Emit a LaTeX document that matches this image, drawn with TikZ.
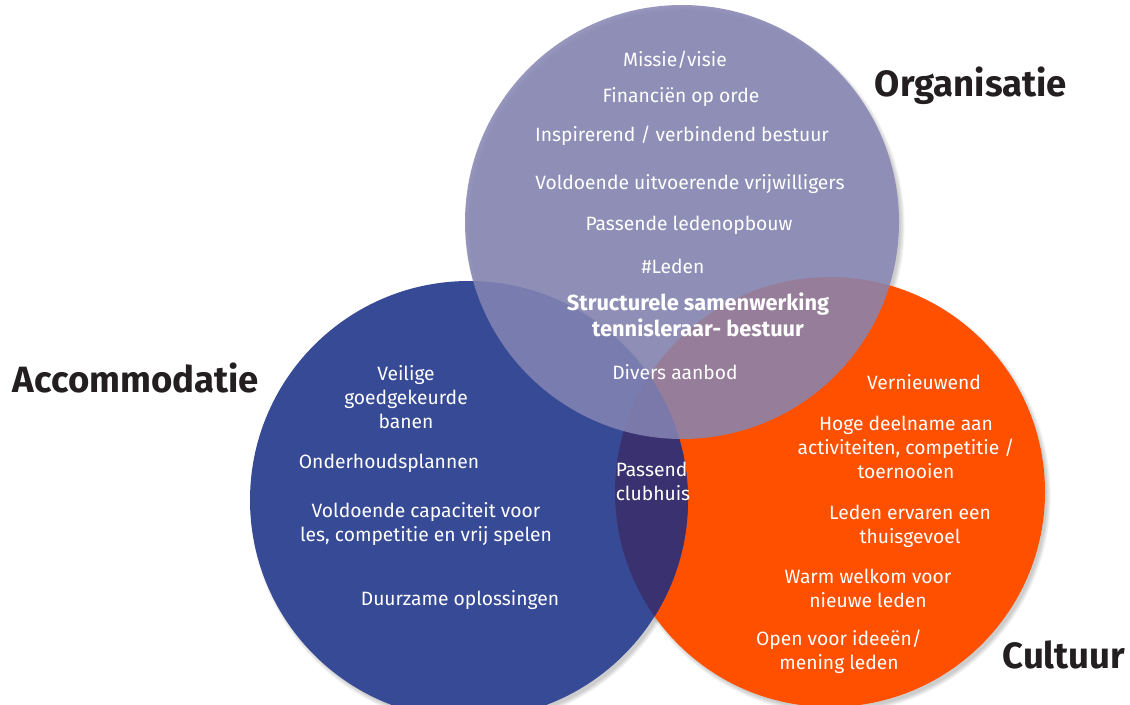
\documentclass[tikz,border=0pt]{standalone}
\usepackage{fontspec}
\setmainfont{Fira Sans}
\definecolor{orgpaars}{RGB}{133,133,179}
\definecolor{accblauw}{RGB}{55,74,150}
\definecolor{cultoranje}{RGB}{255,80,0}
\definecolor{clubpaars}{RGB}{58,50,112}
\definecolor{titelzwart}{RGB}{35,31,32}
\tikzset{
  punt/.style={text=white, align=center, inner sep=0pt, font=\fontsize{13.7}{17}\selectfont},
  vetpunt/.style={punt, font=\fontsize{15.5}{18.5}\selectfont\bfseries},
  titel/.style={text=titelzwart, inner sep=0pt, font=\fontsize{26}{30}\selectfont\bfseries},
}
\begin{document}
\begin{tikzpicture}[x=0.025cm,y=-0.025cm]
    %\draw [help lines] (0,0) grid (1130,704);
    \useasboundingbox (0,0) rectangle (1130,704);

    \coordinate (org) at (682,222);
    \coordinate (acc) at (469,500);
    \coordinate (cul) at (830,492);

    %schaduw
    \foreach \c/\r in {org/217, acc/219, cul/215} {
      \foreach \i in {1,...,6}
        \fill [black, opacity=0.035] ([shift={(3,4)}]\c) circle [radius=\r+\i*0.8-2];
    }

    %Cultuur
    \fill [cultoranje] (cul) circle [radius=215];
    %Accommodatie
    \fill [accblauw] (acc) circle [radius=219];
    %clubhuis
    \begin{scope}
      \clip (cul) circle [radius=215];
      \fill [clubpaars] (acc) circle [radius=219];
    \end{scope}
    %Organisatie
    \fill [orgpaars, opacity=0.86] (org) circle [radius=217];

    %titels
    \node [titel] (torg) at (971,86) {Organisatie};
    \node [titel] (tacc) at (136,378) {Accommodatie};
    \node [titel] (tcul) at (1064,655) {Cultuur};

    %Organisatie
    \node [punt] (missie) at (675,60) {Missie/visie};
    \node [punt] (financien) at (681,97) {Financiën op orde};
    \node [punt] (bestuur) at (682,136) {Inspirerend / verbindend bestuur};
    \node [punt] (vrijwilligers) at (690,184) {Voldoende uitvoerende vrijwilligers};
    \node [punt] (opbouw) at (689,225) {Passende ledenopbouw};
    \node [punt] (leden) at (673,266) {\#Leden};
    \node [vetpunt] (samenwerking) at (698,315) {Structurele samenwerking\\tennisleraar- bestuur};
    \node [punt] (aanbod) at (675,372) {Divers aanbod};

    %Accommodatie
    \node [punt] (banen) at (406,397) {Veilige\\goedgekeurde\\banen};
    \node [punt] (onderhoud) at (389,463) {Onderhoudsplannen};
    \node [punt] (capaciteit) at (426,524) {Voldoende capaciteit voor\\les, competitie en vrij spelen};
    \node [punt] (duurzaam) at (460,600) {Duurzame oplossingen};

    %clubhuis
    \node [punt, align=left] (clubhuis) at (653,481) {Passend\\clubhuis};

    %Cultuur
    \node [punt] (vernieuwend) at (924,382) {Vernieuwend};
    \node [punt] (deelname) at (906,447) {Hoge deelname aan\\activiteiten, competitie /\\toernooien};
    \node [punt] (thuis) at (910,526) {Leden ervaren een\\thuisgevoel};
    \node [punt] (welkom) at (868,588) {Warm welkom voor\\nieuwe leden};
    \node [punt] (ideeen) at (839,652) {Open voor ideeën/\\mening leden};
\end{tikzpicture}
\end{document}
